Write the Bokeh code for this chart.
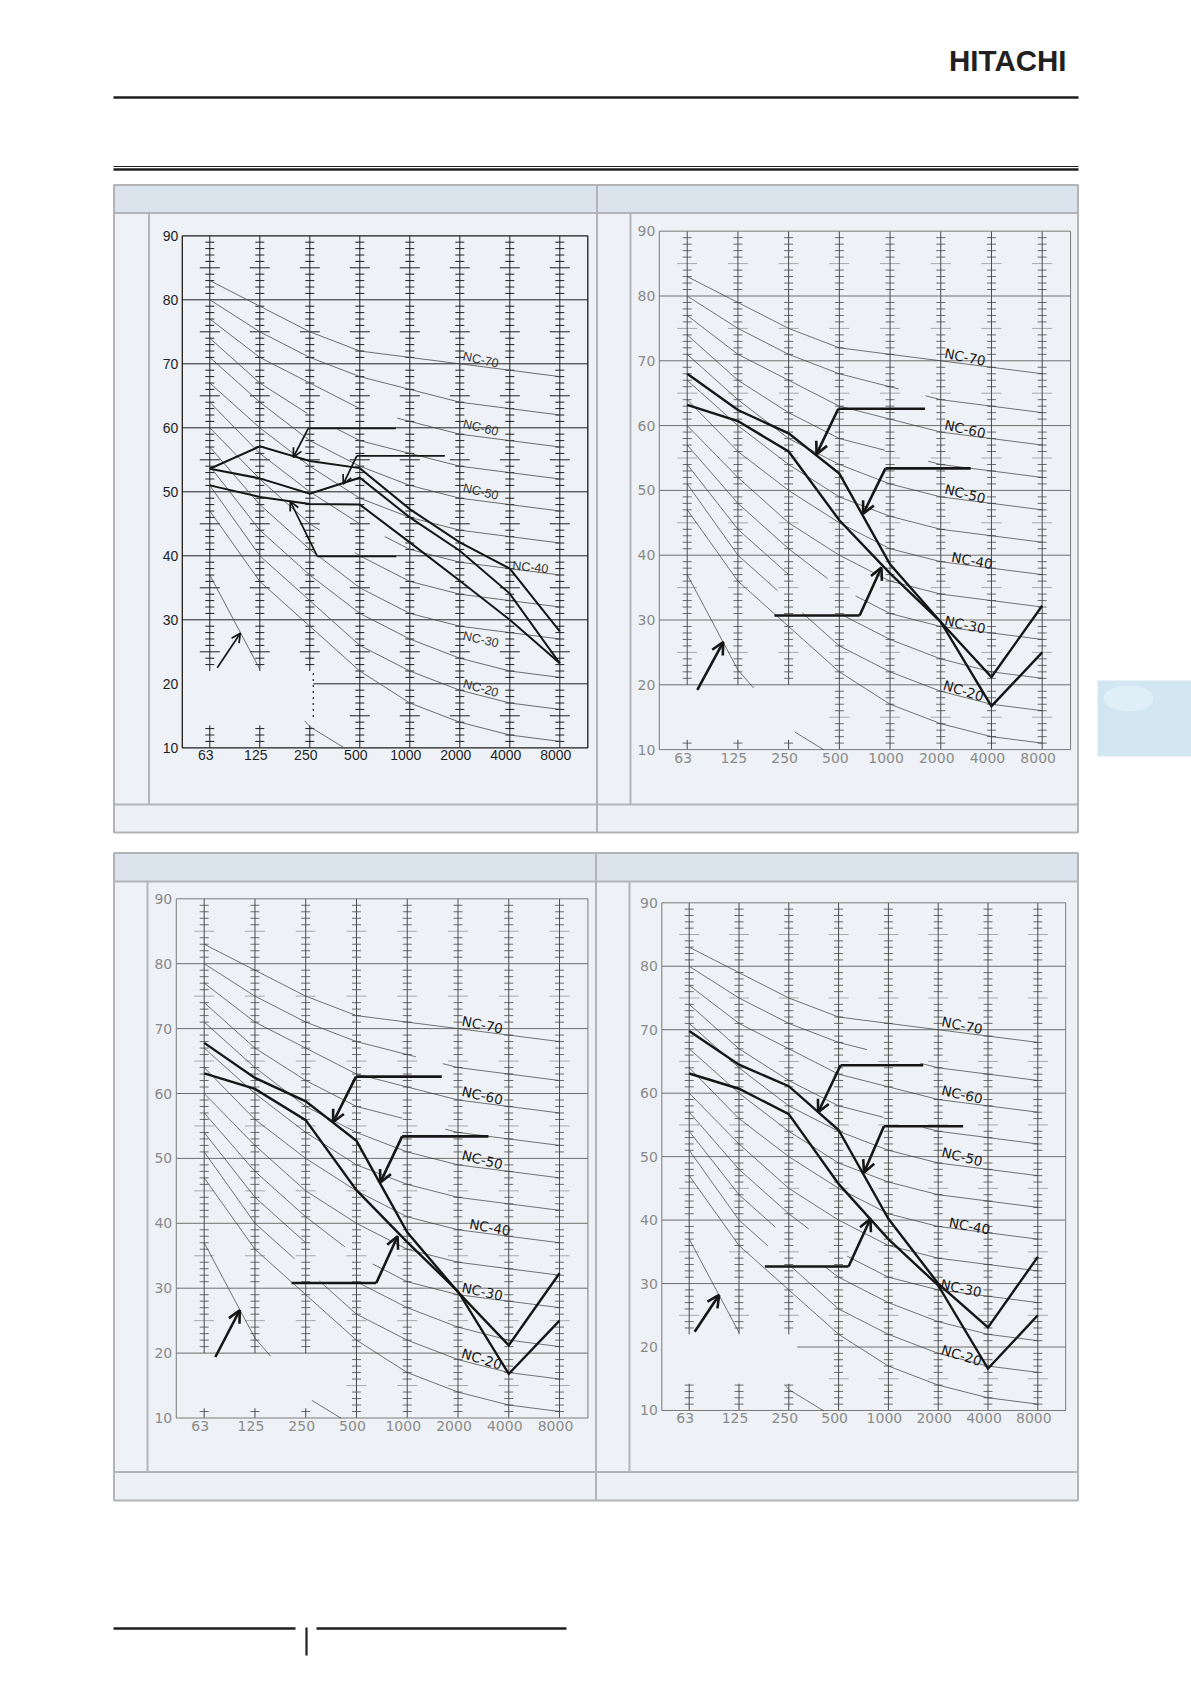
import numpy as np
from bokeh.plotting import figure
from bokeh.models import Range1d, Arrow, OpenHead
from bokeh.core.properties import value
from bokeh.embed import file_html
from bokeh.resources import INLINE

# ------------------------------------------------------------------ data
bands = ["63", "125", "250", "500", "1000", "2000", "4000", "8000"]
db_ticks = [10, 20, 30, 40, 50, 60, 70, 80, 90]
db_tick_labels = ["10", "20", "30", "40", "50", "60", "70", "80", "90"]

nc_names = ["NC-15", "NC-20", "NC-25", "NC-30", "NC-35", "NC-40",
            "NC-45", "NC-50", "NC-55", "NC-60", "NC-65", "NC-70"]
nc15 = [47, 36, 29, 22, 17, 14, 12, 11]
nc20 = [51, 40, 33, 26, 22, 19, 17, 16]
nc25 = [54, 44, 37, 31, 27, 24, 22, 21]
nc30 = [57, 48, 41, 35, 31, 29, 28, 27]
nc35 = [60, 52, 45, 40, 36, 34, 33, 32]
nc40 = [64, 56, 50, 45, 41, 39, 38, 37]
nc45 = [67, 60, 54, 49, 46, 44, 43, 42]
nc50 = [71, 64, 58, 54, 51, 49, 48, 47]
nc55 = [74, 67, 62, 58, 56, 54, 53, 52]
nc60 = [77, 71, 67, 63, 61, 59, 58, 57]
nc65 = [80, 75, 71, 68, 66, 64, 63, 62]
nc70 = [83, 79, 75, 72, 71, 70, 69, 68]
low_curve = [37, 22.3, 13.3, 8.5]          # steep reference line, 63..500 Hz

label_names = ["NC-70", "NC-60", "NC-50", "NC-40", "NC-30", "NC-20"]

# chart 1 (top left) measured spectra
c1_a = [53.6, 57.1, 54.8, 53.7, 47.3, 42.1, 38.0, 28.2]
c1_b = [53.6, 52.1, 49.7, 52.2, 46.0, 40.8, 34.1, 23.2]
c1_c = [51.0, 49.2, 48.1, 48.0, 42.1, 36.1, 30.0, 23.2]
# chart 2 (top right)
c2_a = [68.0, 62.4, 58.8, 52.6, 38.6, 29.7, 21.2, 32.2]
c2_b = [63.2, 60.7, 56.0, 45.4, 37.2, 29.7, 16.7, 25.0]
# chart 3 (bottom left)
c3_a = [67.8, 62.4, 58.8, 52.7, 38.6, 29.4, 21.2, 32.3]
c3_b = [63.1, 60.7, 55.9, 45.1, 37.1, 29.5, 16.8, 25.0]
# chart 4 (bottom right)
c4_a = [69.8, 64.5, 61.1, 54.2, 40.2, 30.0, 23.1, 34.2]
c4_b = [63.1, 60.7, 56.7, 45.7, 37.0, 29.7, 16.6, 25.0]

# callouts: (end of horizontal leader, corner x, corner dB, tip x, tip dB) in band-index / dB
c1_callouts = [(3.72, 1.97, 59.9, 1.67, 55.4), (4.70, 2.94, 55.6, 2.67, 51.2),
               (3.73, 2.15, 39.9, 1.61, 48.5), (None, 0.15, 22.5, 0.61, 27.9)]
c2_callouts = [(4.69, 2.98, 62.6, 2.55, 55.6), (5.59, 3.91, 53.4, 3.47, 46.4),
               (1.72, 3.40, 30.7, 3.83, 38.1), (None, 0.20, 19.2, 0.71, 26.6)]
c3_callouts = [(4.68, 2.99, 62.6, 2.54, 55.6), (5.60, 3.90, 53.4, 3.47, 46.3),
               (1.72, 3.39, 30.8, 3.81, 38.0), (None, 0.22, 19.4, 0.70, 26.6)]
c4_callouts = [(4.70, 3.04, 64.4, 2.59, 57.0), (5.50, 3.91, 54.8, 3.51, 47.5),
               (1.52, 3.20, 32.7, 3.64, 40.2), (None, 0.11, 22.4, 0.60, 28.2)]

# NC label anchor points (band index, dB) and slope (rad)
c1_lab_x = [5.42, 5.42, 5.42, 6.41, 5.42, 5.42]
c1_lab_y = [70.6, 60.0, 50.0, 38.2, 26.9, 19.3]
c2_lab_x = [5.48, 5.48, 5.48, 5.62, 5.48, 5.45]
c2_lab_y = [70.6, 59.5, 49.5, 39.2, 29.3, 19.1]
c3_lab_x = [5.48, 5.48, 5.48, 5.63, 5.48, 5.47]
c3_lab_y = [70.6, 59.7, 49.8, 39.4, 29.5, 19.1]
c4_lab_x = [5.48, 5.48, 5.48, 5.63, 5.46, 5.47]
c4_lab_y = [70.7, 59.8, 50.0, 39.1, 29.3, 18.7]
lab_angle_c1 = [-0.21, -0.24, -0.24, -0.10, -0.22, -0.28]
lab_angle_t = [-0.20, -0.22, -0.24, -0.18, -0.21, -0.30]

# visible pieces of the curves (others are drawn over the full range)
spans_c1 = {"NC-60": [(0, 3.0), (3.75, 7)], "NC-55": [(0, 1.95), (2.55, 7)],
            "NC-40": [(0, 3.0), (3.5, 7)], "NC-35": [(0, 2.2), (2.9, 7)],
            "low": [(0, 1.0), (1.9, 2.7)]}
spans_c23 = {"NC-65": [(0, 4.17), (4.7, 7)], "NC-55": [(0, 3.9), (4.75, 7)],
             "NC-30": [(0, 2.77), (3.32, 7)], "NC-25": [(0, 2.0), (3.08, 7)],
             "NC-20": [(0, 1.78), (2.27, 7)], "low": [(0, 1.31), (2.12, 2.7)]}
spans_c4 = {"NC-65": [(0, 3.57), (4.64, 7)], "NC-55": [(0, 3.9), (4.7, 7)],
            "NC-30": [(0, 2.4), (3.17, 7)], "NC-25": [(0, 1.73), (2.72, 7)],
            "NC-20": [(0, 1.58), (2.05, 7)], "low": [(0, 1.0), (1.93, 2.7)]}

nc_values = dict(zip(nc_names, [nc15, nc20, nc25, nc30, nc35, nc40,
                                nc45, nc50, nc55, nc60, nc65, nc70]))
nc_values["low"] = low_curve

# ------------------------------------------------------------------ page figure
W, H = 1191, 1680
X0, Y0 = 0, 0
p = figure(width=W, height=H, x_range=Range1d(X0, X0 + W), y_range=Range1d(Y0 + H, Y0),
           x_axis_type=None, y_axis_type=None, toolbar_location=None,
           output_backend="svg", min_border=0, outline_line_color=None,
           background_fill_color="white", border_fill_color="white")

INK = "#1f1f1f"
BORDER = "#b2b4b8"
HEAD = "#dbe3ed"
BODY = "#eef2f6"
FOOT = "#edf0f4"

# header logo and rules
p.text(x=[1066], y=[60], text=["HITACHI"], text_align="right", text_baseline="middle",
       text_font=value("Liberation Sans"), text_font_style="bold",
       text_font_size="29.5px", text_color="#231f20")
p.segment(x0=[113, 113, 113], y0=[97, 166, 169], x1=[1078, 1078, 1078], y1=[97, 166, 169],
          line_width=[2.6, 1.0, 2.4], line_color=INK)


def panel(top, head_bot, foot_top, bottom, divider, inner_l, inner_r):
    p.quad(left=[113.5], right=[1077.5], top=[top], bottom=[bottom],
           fill_color=BODY, line_color=None)
    p.quad(left=[113.5], right=[1077.5], top=[top], bottom=[head_bot],
           fill_color=HEAD, line_color=None)
    p.quad(left=[113.5], right=[1077.5], top=[foot_top], bottom=[bottom],
           fill_color=FOOT, line_color=None)
    p.segment(x0=[113.5, 113.5, divider, inner_l, inner_r],
              y0=[head_bot, foot_top, top, head_bot, head_bot],
              x1=[1077.5, 1077.5, divider, inner_l, inner_r],
              y1=[head_bot, foot_top, bottom, foot_top, foot_top],
              line_color=BORDER, line_width=2)
    p.quad(left=[113.5], right=[1077.5], top=[top], bottom=[bottom],
           fill_color=None, line_color=BORDER, line_width=2)


panel(184.5, 212.5, 804, 832, 596.5, 148.5, 630)
panel(852.5, 881, 1471.5, 1500, 595.5, 147, 629)

# side tab
p.quad(left=[1097], right=[1191], top=[680], bottom=[756], fill_color="#d3e7f2", line_color=None)
p.ellipse(x=[1128], y=[698], width=[50], height=[26], fill_color="#e3f0f7",
          fill_alpha=0.8, line_color=None)

# footer rules
p.segment(x0=[113, 316, 306], y0=[1628, 1628, 1627], x1=[295, 566, 306], y1=[1628, 1628, 1655],
          line_width=[2.5, 2.5, 2.2], line_color=INK)

# ------------------------------------------------------------------ charts
FX0, FX1 = -0.55, 7.56     # frame extent in band-index units

style_1 = dict(frame="#1e1e1e", frame_w=1.3, grid="#1e1e1e", band="#1e1e1e",
               tick="#1e1e1e", tick_long="#1e1e1e", curve="#4a4a4a", curve_w=0.8,
               meas_w=2.0, call_w=1.7, head=9, font="Liberation Sans",
               tick_fs="14px", tick_col="#1e1e1e", nc_fs="12.5px", nc_col="#333333",
               xoff_y=2)
style_t = dict(frame="#7a7a7a", frame_w=1.0, grid="#6e6e6e", band="#4a4a4a",
               tick="#6a6a6a", tick_long="#a8a8a8", curve="#3a3a3a", curve_w=0.7,
               meas_w=2.4, call_w=2.6, head=12, font="DejaVu Sans",
               tick_fs="14px", tick_col="#8a8a8a", nc_fs="13.5px", nc_col="#1a1a1a",
               xoff_y=3)


def span_pts(vals, a, b):
    idx = np.arange(len(vals), dtype=float)
    xs = [a] + [float(i) for i in idx if a < i < b] + [b]
    return xs, list(np.interp(xs, idx, vals))


def chart(name, g, st, lines, callouts, lab_x, lab_y, lab_ang, spans,
          band_spans, grid20_start, dotted=None):
    xr, yr = name + "x", name + "y"
    p.extra_x_ranges[xr] = Range1d((X0 - g["x0"]) / g["dx"], (X0 + W - g["x0"]) / g["dx"])
    p.extra_y_ranges[yr] = Range1d(90 - (Y0 + H - g["ytop"]) / g["s"],
                                   90 - (Y0 - g["ytop"]) / g["s"])
    kw = dict(x_range_name=xr, y_range_name=yr)

    # horizontal grid lines
    gy = db_ticks[1:-1]
    gx0 = [grid20_start if v == 20 else FX0 for v in gy]
    p.segment(x0=gx0, y0=gy, x1=[FX1] * len(gy), y1=gy,
              line_color=st["grid"], line_width=1, **kw)

    # band lines with 1 dB ticks
    bx0, by0, bx1, by1 = [], [], [], []
    sx, sy, lx, ly = [], [], [], []
    for i, sp in enumerate(band_spans):
        for lo, hi in sp:
            bx0.append(i); by0.append(lo); bx1.append(i); by1.append(hi)
            for d in range(11, 90):
                if lo < d < hi:
                    if d % 5 == 0 and d % 10 != 0:
                        lx.append(i); ly.append(d)
                    elif d % 10 != 0:
                        sx.append(i); sy.append(d)
    p.scatter(lx, ly, marker="dash", size=20, line_color=st["tick_long"], line_width=1, **kw)
    p.scatter(sx, sy, marker="dash", size=9, line_color=st["tick"], line_width=1, **kw)
    p.segment(x0=bx0, y0=by0, x1=bx1, y1=by1, line_color=st["band"], line_width=1, **kw)
    if dotted is not None:
        p.segment(x0=[dotted[0]], y0=[dotted[1]], x1=[dotted[0]], y1=[dotted[2]],
                  line_color=st["band"], line_width=1.2, line_dash="2 4", **kw)

    # frame
    p.quad(left=[FX0], right=[FX1], bottom=[10], top=[90], fill_color=None,
           line_color=st["frame"], line_width=st["frame_w"], **kw)

    # NC curves
    xs_all, ys_all = [], []
    for key, vals in nc_values.items():
        for a, b in spans.get(key, [(0, len(vals) - 1)]):
            xs, ys = span_pts(vals, a, b)
            xs_all.append(xs); ys_all.append(ys)
    p.multi_line(xs_all, ys_all, line_color=st["curve"], line_width=st["curve_w"], **kw)

    # NC labels
    p.text(x=lab_x, y=lab_y, text=label_names, angle=lab_ang,
           text_align="center", text_baseline="middle",
           text_font=value(st["font"]), text_font_size=st["nc_fs"],
           text_color=st["nc_col"], **kw)

    # measured spectra
    for vals in lines:
        p.line(list(range(len(bands))), vals, line_color="#161616",
               line_width=st["meas_w"], line_join="miter", **kw)

    # callouts
    for h_end, cx, cy, tx, ty in callouts:
        if h_end is not None:
            p.line([h_end, cx], [cy, cy], line_color="#161616", line_width=st["call_w"], **kw)
        p.add_layout(Arrow(x_start=cx, y_start=cy, x_end=tx, y_end=ty,
                           line_color="#161616", line_width=st["call_w"],
                           end=OpenHead(size=st["head"], line_width=st["call_w"],
                                        line_color="#161616"), **kw))

    # tick labels
    p.text(x=[FX0] * len(db_ticks), y=db_ticks, text=db_tick_labels,
           text_align="right", text_baseline="middle", x_offset=-4,
           text_font=value(st["font"]), text_font_size=st["tick_fs"],
           text_color=st["tick_col"], **kw)
    p.text(x=list(range(len(bands))), y=[10] * len(bands), text=bands,
           text_align="center", text_baseline="top", x_offset=-4, y_offset=st["xoff_y"],
           text_font=value(st["font"]), text_font_size=st["tick_fs"],
           text_color=st["tick_col"], **kw)


bs_c1 = [[(22, 90), (10, 13.5)]] * 3 + [[(10, 90)]] * 5
bs_c23 = [[(20, 90), (10, 11.5)]] * 3 + [[(10, 90)]] * 5
bs_c4 = [[(22, 90), (10, 14.2)]] * 3 + [[(10, 90)]] * 5

chart("c1", dict(x0=209.3, dx=50.0, ytop=235.3, s=6.4), style_1,
      [c1_a, c1_b, c1_c], c1_callouts, c1_lab_x, c1_lab_y, lab_angle_c1,
      spans_c1, bs_c1, 2.07, dotted=(2.07, 14.8, 22.2))
chart("c2", dict(x0=686.7, dx=50.71, ytop=230.7, s=6.48), style_t,
      [c2_a, c2_b], c2_callouts, c2_lab_x, c2_lab_y, lab_angle_t,
      spans_c23, bs_c23, FX0)
chart("c3", dict(x0=203.7, dx=50.76, ytop=898.3, s=6.49), style_t,
      [c3_a, c3_b], c3_callouts, c3_lab_x, c3_lab_y, lab_angle_t,
      spans_c23, bs_c23, FX0)
chart("c4", dict(x0=688.7, dx=49.8, ytop=902.3, s=6.346), style_t,
      [c4_a, c4_b], c4_callouts, c4_lab_x, c4_lab_y, lab_angle_t,
      spans_c4, bs_c4, 2.17)

open("out.html", "w").write(file_html(p, INLINE))
